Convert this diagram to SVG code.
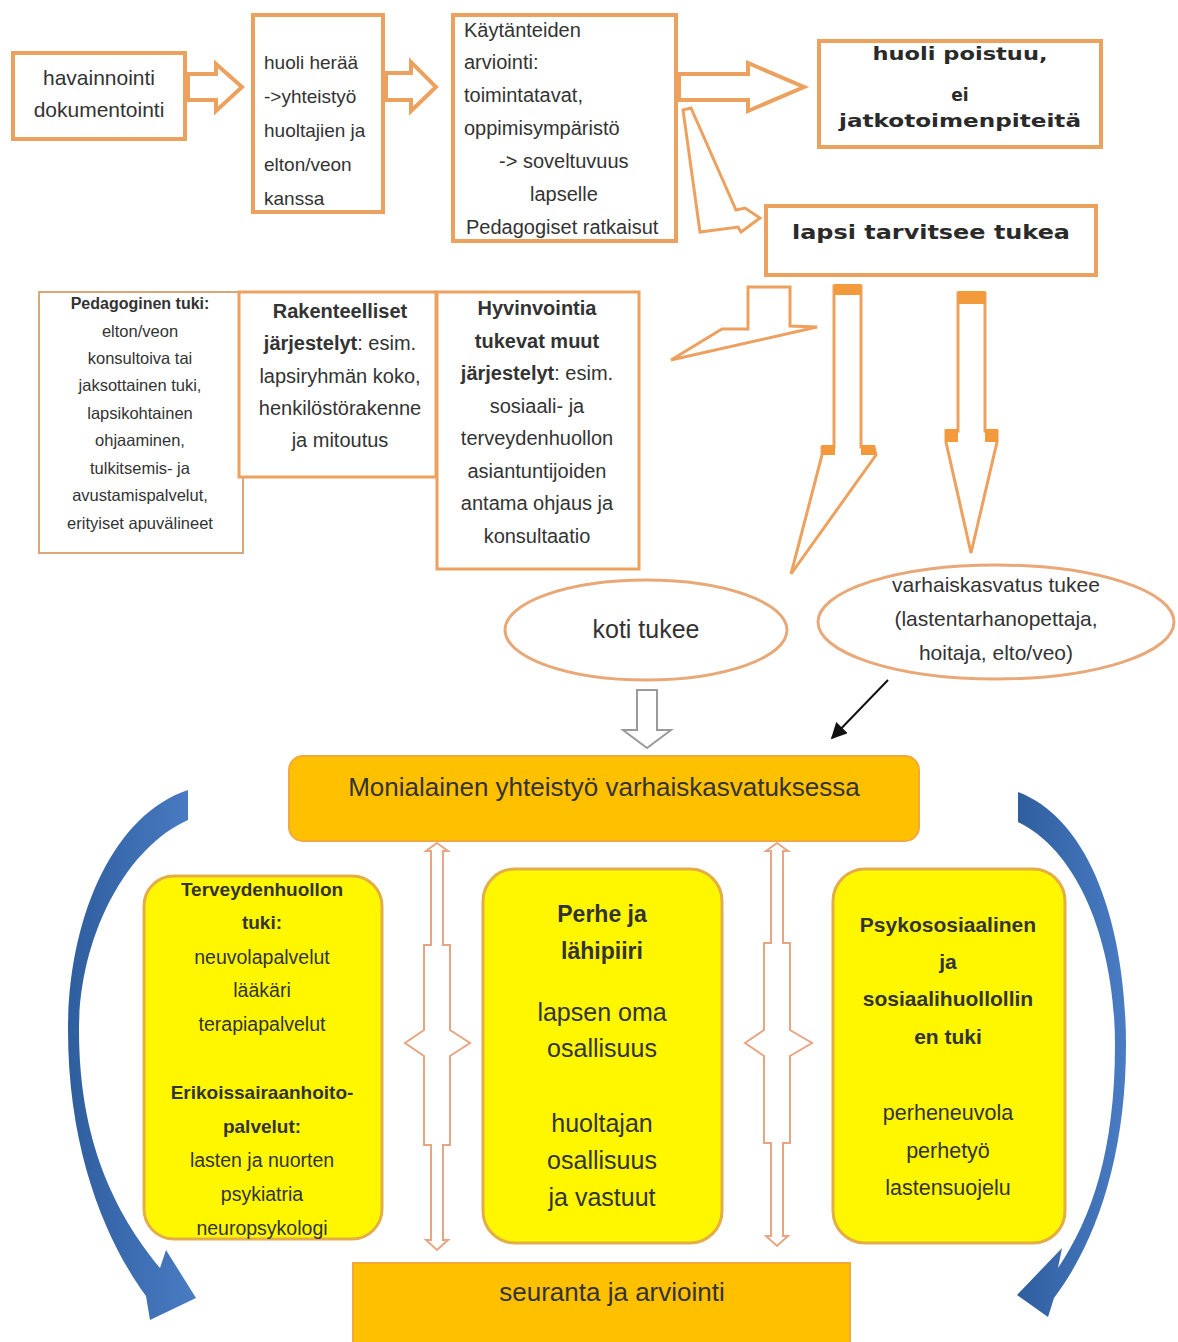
<svg xmlns="http://www.w3.org/2000/svg" width="1178" height="1342" viewBox="0 0 1178 1342">
<defs>
<style>
text{font-family:"Liberation Sans",Arial,sans-serif;fill:#333;}
.c{text-anchor:middle;}
.b{font-weight:bold;}
.wide{font-family:"DejaVu Sans",Verdana,sans-serif;fill:#2a2a2a;font-weight:bold;}
.box{fill:#fff;stroke:#EDA15F;stroke-width:4;}
.boxthin{fill:#fff;stroke:#D9A77A;stroke-width:2;}
.harrow{fill:#fff;stroke:#EDA15F;stroke-width:4;stroke-linejoin:miter;}
.darrow{fill:#fff;stroke:#EDA15F;stroke-width:3;}
.cap{fill:#F29A3C;}
.ell{fill:#fff;stroke:#E8A878;stroke-width:3;}
.gold{fill:#FFC000;stroke:#F2A93B;stroke-width:2;}
.yel{fill:#FFF700;stroke:#E3AE45;stroke-width:3;}
.dbl{fill:#fff;stroke:#E6A684;stroke-width:2;}
.blue{fill:url(#bg);}
</style>
<linearGradient id="bg" x1="0" y1="0" x2="1" y2="0">
<stop offset="0" stop-color="#2F5E9E"/>
<stop offset="1" stop-color="#4A7CC4"/>
</linearGradient>
<marker id="blk" viewBox="0 0 10 10" refX="9" refY="5" markerWidth="8" markerHeight="8" orient="auto">
<path d="M0,0 L10,5 L0,10 Z" fill="#111"/>
</marker>
</defs>

<g id="connectors">
<polygon class="harrow" points="188,74 216,74 216,64 242,87 216,111 216,100 188,100"/>
<polygon class="harrow" points="386,73 411,73 411,62 436,87 411,111 411,100 386,100"/>
<polygon class="harrow" points="679,74 748,74 748,63 804,87 748,111 748,100 679,100"/>
<polygon class="darrow" points="683,110 691,108 736,210 745,208 760,218 741,232 738,227 700,232"/>
<polygon class="darrow" points="748,287 790,287 790,326 817,327 671,360 722,329 748,329"/>
<polygon class="darrow" points="834,286 861,286 861,447 874,447 876,455 791,574 822,455 822,447 834,447"/>
<rect class="cap" x="834" y="284" width="27" height="11"/>
<rect class="cap" x="822" y="445" width="13" height="10"/>
<rect class="cap" x="861" y="445" width="14" height="10"/>
<polygon class="darrow" points="958,293 985,293 985,431 997,431 997,442 971,553 946,442 946,431 958,431"/>
<rect class="cap" x="958" y="291" width="27" height="13"/>
<rect class="cap" x="945" y="429" width="13" height="13"/>
<rect class="cap" x="985" y="429" width="13" height="13"/>
<polygon points="637,690 657,690 657,730 671,730 647,748 623,730 637,730" fill="#fff" stroke="#9a9a9a" stroke-width="2"/>
<line x1="888" y1="680" x2="832" y2="738" stroke="#111" stroke-width="2" marker-end="url(#blk)"/>
<polygon class="dbl" points="437,843 448,851 443,851 443,945 450,945 450,1030 470,1043 450,1056 450,1145 443,1145 443,1240 448,1240 437,1250 426,1240 431,1240 431,1145 424,1145 424,1056 405,1043 424,1030 424,945 431,945 431,851 426,851"/>
<polygon class="dbl" points="777,843 788,851 783,851 783,943 790,943 790,1030 812,1043 790,1056 790,1143 783,1143 783,1236 788,1236 777,1246 766,1236 771,1236 771,1143 764,1143 764,1056 745,1043 764,1030 764,943 771,943 771,851 766,851"/>
<path class="blue" d="M188,790 C112,815 68,920 68,1030 C68,1150 105,1240 146,1296 L150,1320 L196,1298 L166,1250 L160,1268 C114,1212 79,1140 79,1030 C79,938 125,848 188,820 Z"/>
<path class="blue" d="M1018,792 C1092,820 1126,930 1126,1045 C1126,1152 1098,1240 1054,1298 L1048,1317 L1017,1295 L1062,1248 L1058,1268 C1092,1218 1115,1150 1115,1045 C1115,945 1080,852 1018,822 Z"/>
</g>

<g id="n-havainnointi">
<rect class="box" x="13" y="53" width="172" height="86"/>
<text class="c" x="99" y="85" font-size="21">havainnointi</text>
<text class="c" x="99" y="117" font-size="21">dokumentointi</text>
</g>

<g id="n-huoli-heraa">
<rect class="box" x="253" y="15" width="130" height="197"/>
<text x="264" y="69" font-size="19">huoli herää</text>
<text x="264" y="103" font-size="19">-&gt;yhteistyö</text>
<text x="264" y="137" font-size="19">huoltajien ja</text>
<text x="264" y="171" font-size="19">elton/veon</text>
<text x="264" y="205" font-size="19">kanssa</text>
</g>

<g id="n-kaytanteiden">
<rect class="box" x="453" y="15" width="223" height="226"/>
<text x="464" y="37" font-size="20">Käytänteiden</text>
<text x="464" y="69" font-size="20">arviointi:</text>
<text x="464" y="102" font-size="20">toimintatavat,</text>
<text x="464" y="135" font-size="20">oppimisympäristö</text>
<text x="499" y="168" font-size="20">-&gt; soveltuvuus</text>
<text x="530" y="201" font-size="20">lapselle</text>
<text x="466" y="234" font-size="20">Pedagogiset ratkaisut</text>
</g>

<g id="n-huoli-poistuu">
<rect class="box" x="819" y="41" width="282" height="106"/>
<text class="wide c" x="960" y="60" font-size="17" textLength="175" lengthAdjust="spacingAndGlyphs">huoli poistuu,</text>
<text class="wide c" x="960" y="101" font-size="17">ei</text>
<text class="wide c" x="960" y="127" font-size="17" textLength="242" lengthAdjust="spacingAndGlyphs">jatkotoimenpiteitä</text>
</g>

<g id="n-lapsi-tarvitsee">
<rect class="box" x="766" y="206" width="330" height="69"/>
<text class="wide c" x="931" y="239" font-size="19" textLength="278" lengthAdjust="spacingAndGlyphs">lapsi tarvitsee tukea</text>
</g>

<g id="n-pedagoginen">
<rect class="boxthin" x="39" y="292" width="204" height="261"/>
<text class="c b" x="140" y="309" font-size="16">Pedagoginen tuki:</text>
<text class="c" x="140" y="337" font-size="16.5">elton/veon</text>
<text class="c" x="140" y="364" font-size="16.5">konsultoiva tai</text>
<text class="c" x="140" y="391" font-size="16.5">jaksottainen tuki,</text>
<text class="c" x="140" y="419" font-size="16.5">lapsikohtainen</text>
<text class="c" x="140" y="446" font-size="16.5">ohjaaminen,</text>
<text class="c" x="140" y="474" font-size="16.5">tulkitsemis- ja</text>
<text class="c" x="140" y="501" font-size="16.5">avustamispalvelut,</text>
<text class="c" x="140" y="529" font-size="16.5">erityiset apuvälineet</text>
</g>

<g id="n-rakenteelliset">
<rect fill="#fff" stroke="#EDA15F" stroke-width="3" x="239" y="292" width="197" height="185"/>
<text class="c b" x="340" y="318" font-size="20">Rakenteelliset</text>
<text class="c" x="340" y="350" font-size="20"><tspan font-weight="bold">järjestelyt</tspan>: esim.</text>
<text class="c" x="340" y="383" font-size="20">lapsiryhmän koko,</text>
<text class="c" x="340" y="415" font-size="20">henkilöstörakenne</text>
<text class="c" x="340" y="447" font-size="20">ja mitoutus</text>
</g>

<g id="n-hyvinvointia">
<rect fill="#fff" stroke="#EDA15F" stroke-width="3" x="437" y="292" width="202" height="277"/>
<text class="c b" x="537" y="315" font-size="20">Hyvinvointia</text>
<text class="c b" x="537" y="348" font-size="20">tukevat muut</text>
<text class="c" x="537" y="380" font-size="20"><tspan font-weight="bold">järjestelyt</tspan>: esim.</text>
<text class="c" x="537" y="413" font-size="20">sosiaali- ja</text>
<text class="c" x="537" y="445" font-size="20">terveydenhuollon</text>
<text class="c" x="537" y="478" font-size="20">asiantuntijoiden</text>
<text class="c" x="537" y="510" font-size="20">antama ohjaus ja</text>
<text class="c" x="537" y="543" font-size="20">konsultaatio</text>
</g>

<g id="n-koti-tukee">
<ellipse class="ell" cx="646" cy="630" rx="141" ry="50"/>
<text class="c" x="646" y="638" font-size="25">koti tukee</text>
</g>

<g id="n-varhaiskasvatus-tukee">
<ellipse class="ell" cx="996" cy="622" rx="178" ry="57"/>
<text class="c" x="996" y="592" font-size="21">varhaiskasvatus tukee</text>
<text class="c" x="996" y="626" font-size="21">(lastentarhanopettaja,</text>
<text class="c" x="996" y="660" font-size="21">hoitaja, elto/veo)</text>
</g>

<g id="n-monialainen">
<rect class="gold" x="289" y="756" width="630" height="85" rx="14"/>
<text class="c" x="604" y="796" font-size="26" fill="#3a2a00">Monialainen yhteistyö varhaiskasvatuksessa</text>
</g>

<g id="n-terveydenhuolto">
<rect class="yel" x="144" y="876" width="238" height="363" rx="30"/>
<text class="c b" x="262" y="896" font-size="19">Terveydenhuollon</text>
<text class="c b" x="262" y="929" font-size="19">tuki:</text>
<text class="c" x="262" y="964" font-size="19.5">neuvolapalvelut</text>
<text class="c" x="262" y="997" font-size="19.5">lääkäri</text>
<text class="c" x="262" y="1031" font-size="19.5">terapiapalvelut</text>
<text class="c b" x="262" y="1099" font-size="19">Erikoissairaanhoito-</text>
<text class="c b" x="262" y="1133" font-size="19">palvelut:</text>
<text class="c" x="262" y="1167" font-size="19.5">lasten ja nuorten</text>
<text class="c" x="262" y="1201" font-size="19.5">psykiatria</text>
<text class="c" x="262" y="1235" font-size="19.5">neuropsykologi</text>
</g>

<g id="n-perhe">
<rect class="yel" x="483" y="869" width="239" height="374" rx="32"/>
<text class="c b" x="602" y="922" font-size="23">Perhe ja</text>
<text class="c b" x="602" y="959" font-size="23">lähipiiri</text>
<text class="c" x="602" y="1021" font-size="25">lapsen oma</text>
<text class="c" x="602" y="1057" font-size="25">osallisuus</text>
<text class="c" x="602" y="1132" font-size="25">huoltajan</text>
<text class="c" x="602" y="1169" font-size="25">osallisuus</text>
<text class="c" x="602" y="1206" font-size="25">ja vastuut</text>
</g>

<g id="n-psykososiaalinen">
<rect class="yel" x="833" y="869" width="232" height="374" rx="32"/>
<text class="c b" x="948" y="932" font-size="21">Psykososiaalinen</text>
<text class="c b" x="948" y="969" font-size="21">ja</text>
<text class="c b" x="948" y="1006" font-size="21">sosiaalihuollollin</text>
<text class="c b" x="948" y="1044" font-size="21">en tuki</text>
<text class="c" x="948" y="1120" font-size="21.5">perheneuvola</text>
<text class="c" x="948" y="1158" font-size="21.5">perhetyö</text>
<text class="c" x="948" y="1195" font-size="21.5">lastensuojelu</text>
</g>

<g id="n-seuranta">
<rect class="gold" x="353" y="1263" width="497" height="90"/>
<text class="c" x="612" y="1301" font-size="26" fill="#3a2a00">seuranta ja arviointi</text>
</g>
</svg>
